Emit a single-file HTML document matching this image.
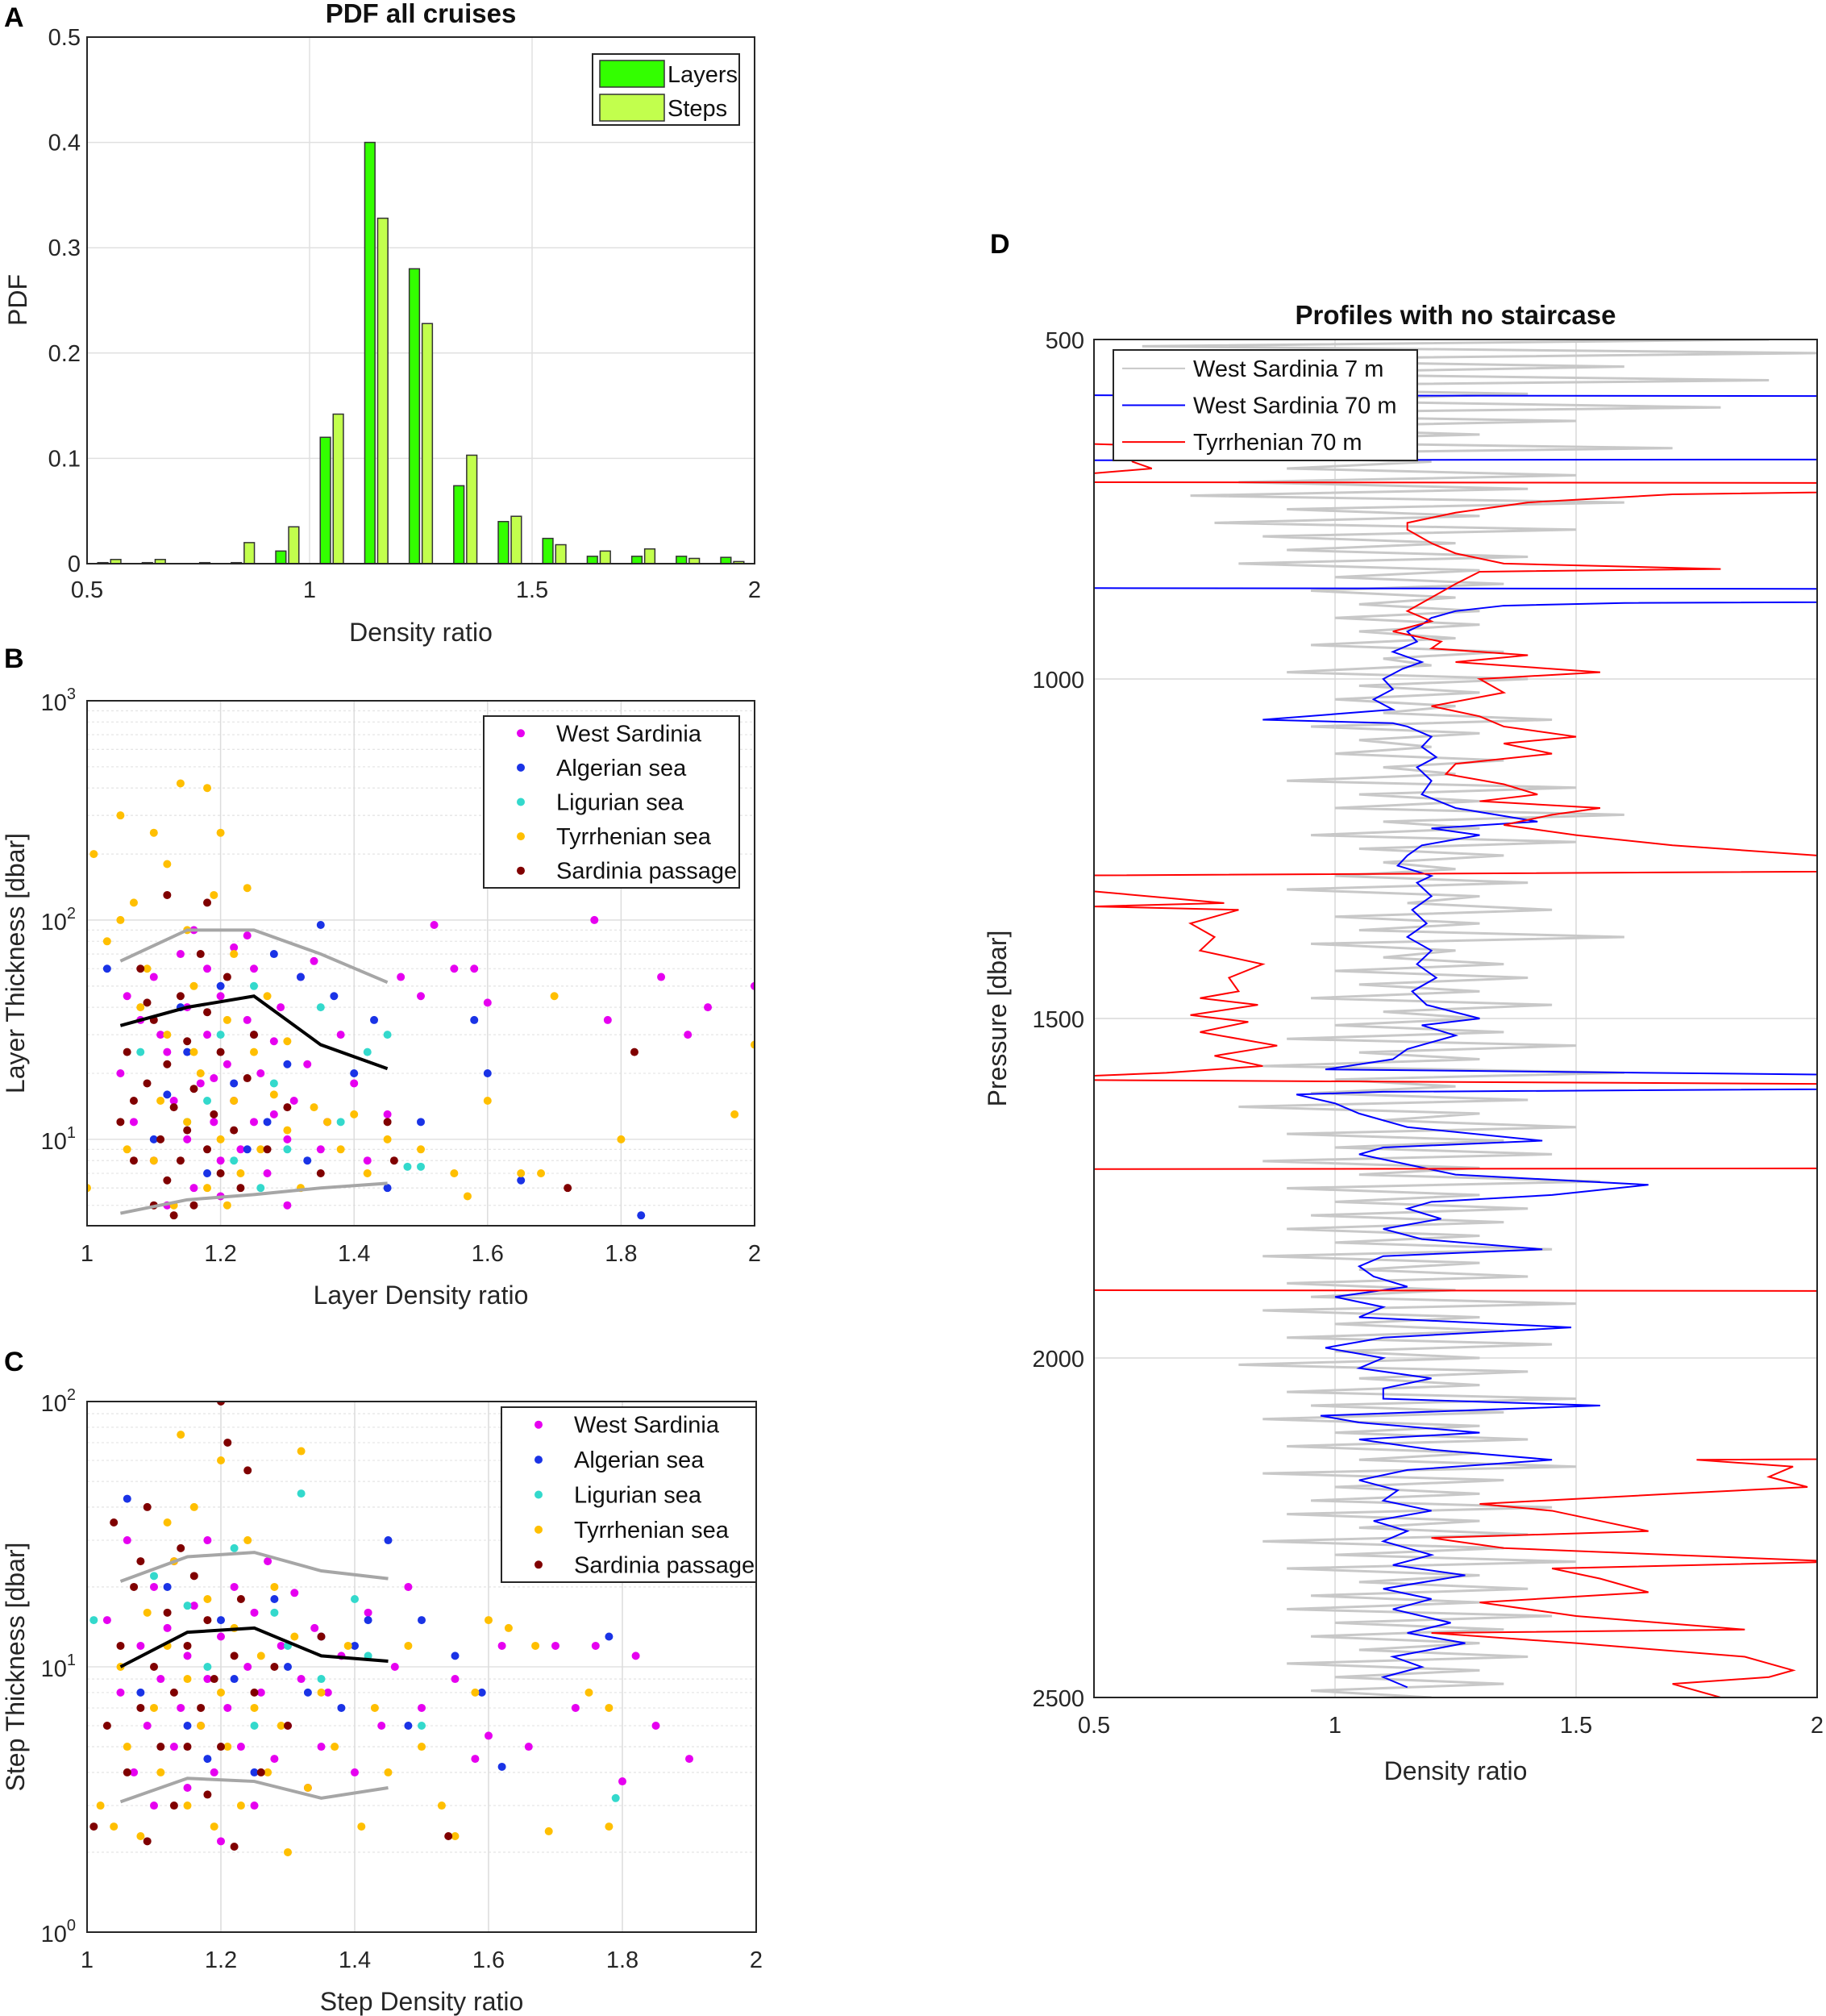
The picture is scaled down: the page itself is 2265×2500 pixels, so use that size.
<!DOCTYPE html>
<html><head><meta charset="utf-8"><style>
html,body{margin:0;padding:0;background:#fff}
svg{display:block;font-family:"Liberation Sans","DejaVu Sans",sans-serif}
</style></head><body>
<svg id="fig" xmlns="http://www.w3.org/2000/svg" width="2265" height="2500" viewBox="0 0 2265 2500">
<defs>
<clipPath id="clipB"><rect x="108" y="869" width="828" height="651"/></clipPath>
<clipPath id="clipC"><rect x="108" y="1738" width="830" height="658"/></clipPath>
<clipPath id="clipD"><rect x="1357" y="421" width="897" height="1684"/></clipPath>
</defs>
<rect x="0" y="0" width="2265" height="2500" fill="#fff"/>
<g id="gA"></g>
<g id="gB"></g>
<g id="gC"></g>
<g id="gD"></g>
</svg>
<script>
// ---------- Panel A data ----------
const binCenters=[0.55,0.65,0.75,0.85,0.95,1.05,1.15,1.25,1.35,1.45,1.55,1.65,1.75,1.85,1.95];
const layersPdf=[0.001,0.001,0,0.001,0.012,0.12,0.40,0.28,0.074,0.04,0.024,0.007,0.007,0.007,0.006];
const stepsPdf=[0.004,0.004,0.001,0.02,0.035,0.142,0.328,0.228,0.103,0.045,0.018,0.012,0.014,0.005,0.002];
const aXTicks=[0.5,1,1.5,2];
const aYTicks=[0,0.1,0.2,0.3,0.4,0.5];
// ---------- Panel B data ----------
const bWestSardinia=[1.05,20,1.07,12,1.08,35,1.1,8,1.1,55,1.12,25,1.13,15,1.14,70,1.15,10,1.15,40,1.16,6,1.17,18,1.18,30,1.18,60,1.19,12,1.2,8,1.2,45,1.21,22,1.22,15,1.22,75,1.23,9,1.24,35,1.25,12,1.25,60,1.26,20,1.27,7,1.28,28,1.29,40,1.3,10,1.31,15,1.32,55,1.33,22,1.35,9,1.36,12,1.38,30,1.4,18,1.42,8,1.45,13,1.47,55,1.5,45,1.52,95,1.55,60,1.58,60,1.6,42,1.76,100,1.78,35,1.86,55,1.9,30,1.93,40,2.0,50,1.12,5,1.2,5.5,1.3,5,1.06,45,1.16,90,1.24,85,1.11,30,1.19,19,1.28,13,1.34,65];
const bAlgerian=[1.03,60,1.1,10,1.15,25,1.18,7,1.2,50,1.22,18,1.25,30,1.27,12,1.28,70,1.3,22,1.33,8,1.35,95,1.37,45,1.4,20,1.43,35,1.45,6,1.5,12,1.58,35,1.6,20,1.65,6.5,1.83,4.5,1.14,40,1.24,9,1.32,55,1.12,16];
const bLigurian=[1.08,25,1.15,12,1.2,30,1.22,8,1.25,50,1.28,18,1.3,9,1.35,40,1.38,12,1.42,25,1.45,30,1.48,7.5,1.5,7.5,1.18,15,1.26,6];
const bTyrrhenian=[1.0,6,1.01,200,1.03,80,1.05,100,1.05,300,1.07,120,1.08,40,1.1,8,1.1,250,1.12,30,1.12,180,1.13,5,1.14,420,1.15,12,1.15,90,1.16,50,1.17,20,1.18,400,1.18,6,1.19,130,1.2,10,1.2,250,1.21,35,1.22,15,1.22,70,1.23,7,1.24,140,1.25,25,1.26,9,1.27,45,1.28,16,1.3,11,1.3,28,1.32,6,1.34,14,1.36,12,1.38,9,1.4,13,1.42,7,1.45,10,1.5,9,1.55,7,1.57,5.5,1.6,15,1.65,7,1.68,7,1.7,45,1.8,10,1.97,13,2.0,27,1.09,60,1.16,25,1.11,15,1.21,5,1.06,9];
const bSardPassage=[1.05,12,1.06,25,1.07,8,1.08,60,1.09,18,1.1,5,1.1,35,1.11,10,1.12,22,1.12,6.5,1.13,14,1.14,45,1.14,8,1.15,28,1.15,11,1.16,5,1.16,17,1.17,70,1.18,9,1.18,38,1.19,13,1.2,7,1.2,25,1.21,55,1.22,11,1.23,6,1.24,19,1.25,30,1.27,9,1.3,14,1.35,7,1.45,12,1.46,8,1.72,6,1.82,25,1.12,130,1.18,120,1.09,42,1.13,4.5,1.07,15];
const bLineX=[1.05,1.15,1.25,1.35,1.45];
const bMedian=[33,40,45,27,21];
const bUpper=[65,90,90,70,52];
const bLower=[4.6,5.3,5.6,6,6.3];
// ---------- Panel C data ----------
const cWestSardinia=[1.03,15,1.05,8,1.06,30,1.07,4,1.08,12,1.09,6,1.1,20,1.1,3,1.11,9,1.12,14,1.13,5,1.13,25,1.14,7,1.15,11,1.15,3.5,1.16,17,1.17,6,1.18,9,1.18,30,1.19,4,1.2,13,1.2,2.2,1.21,7,1.22,20,1.23,5,1.24,10,1.25,3,1.25,16,1.26,8,1.27,25,1.28,4.5,1.29,12,1.3,6,1.31,19,1.32,9,1.33,3.5,1.34,14,1.35,5,1.36,8,1.38,11,1.4,4,1.42,16,1.44,6,1.46,10,1.48,20,1.5,7,1.55,9,1.58,4.5,1.62,12,1.66,5,1.73,7,1.76,12,1.8,3.7,1.82,11,1.85,6,1.9,4.5,1.6,5.5,1.7,12];
const cAlgerian=[1.06,43,1.12,20,1.15,6,1.2,15,1.22,9,1.25,4,1.28,18,1.3,10,1.33,8,1.35,13,1.38,7,1.4,12,1.42,15,1.45,30,1.48,6,1.5,15,1.55,11,1.59,8,1.62,4.2,1.78,13,1.08,8,1.18,4.5];
const cLigurian=[1.01,15,1.1,22,1.18,10,1.22,28,1.25,6,1.28,16,1.3,12,1.32,45,1.35,9,1.4,18,1.42,11,1.5,6,1.79,3.2,1.15,17];
const cTyrrhenian=[1.02,3,1.04,2.5,1.05,10,1.06,5,1.08,2.3,1.09,16,1.1,7,1.11,4,1.12,12,1.13,25,1.14,75,1.15,3,1.15,9,1.16,40,1.17,6,1.18,18,1.19,2.5,1.2,8,1.2,60,1.21,5,1.22,14,1.23,3,1.24,30,1.25,7,1.26,11,1.27,4,1.28,20,1.29,6,1.3,2,1.31,13,1.32,65,1.33,3.5,1.35,8,1.37,5,1.39,12,1.41,2.5,1.43,7,1.45,4,1.48,12,1.5,5,1.53,3,1.55,2.3,1.58,8,1.6,15,1.63,14,1.67,12,1.69,2.4,1.75,8,1.78,2.5,1.78,7,1.12,35];
const cSardPassage=[1.01,2.5,1.03,6,1.04,35,1.05,12,1.06,4,1.07,20,1.08,7,1.09,2.2,1.09,40,1.1,10,1.11,5,1.12,16,1.13,3,1.13,8,1.14,28,1.15,12,1.15,5,1.16,22,1.17,7,1.18,3.3,1.18,15,1.19,9,1.2,100,1.2,5,1.21,70,1.22,11,1.22,2.1,1.23,18,1.24,55,1.25,8,1.26,4,1.28,10,1.3,6,1.35,13,1.08,25,1.54,2.3];
const cMedian=[10,13.5,14,11,10.5];
const cUpper=[21,26,27,23,21.5];
const cLower=[3.1,3.8,3.7,3.2,3.5];
const xTicksBC=[1,1.2,1.4,1.6,1.8,2];
// ---------- Panel D data ----------
const bluePressure=[500,582,584,676,678,866,868,884,888,892,900,910,920,930,945,960,975,985,1000,1015,1030,1045,1060,1065,1070,1085,1100,1115,1130,1150,1170,1190,1210,1220,1230,1245,1260,1275,1290,1300,1320,1340,1360,1380,1400,1420,1440,1460,1480,1500,1510,1525,1545,1560,1575,1590,1600,1608,1612,1625,1640,1660,1680,1690,1700,1715,1730,1745,1760,1770,1780,1795,1810,1825,1840,1850,1865,1880,1895,1910,1925,1940,1955,1970,1985,2000,2015,2030,2045,2060,2070,2085,2095,2110,2120,2135,2150,2165,2180,2195,2210,2225,2240,2255,2270,2290,2305,2320,2340,2355,2370,2390,2405,2420,2440,2455,2470,2485,2500];
const blueValue=[0.3,0.3,3,3,0.3,0.3,3,3,1.6,1.35,1.25,1.2,1.18,1.15,1.17,1.12,1.18,1.14,1.1,1.12,1.08,1.12,0.85,1.12,1.15,1.2,1.18,1.21,1.17,1.2,1.18,1.25,1.42,1.2,1.3,1.18,1.15,1.13,1.2,1.17,1.2,1.16,1.19,1.15,1.2,1.17,1.21,1.16,1.19,1.3,1.18,1.25,1.15,1.12,0.98,3,3,1.1,0.92,1.0,1.05,1.15,1.43,1.1,1.05,1.15,1.25,1.65,1.45,1.2,1.15,1.22,1.1,1.18,1.43,1.1,1.05,1.08,1.15,1.0,1.1,1.05,1.49,1.1,0.98,1.1,1.05,1.2,1.1,1.1,1.55,0.97,1.05,1.3,1.05,1.2,1.45,1.15,1.05,1.13,1.1,1.2,1.08,1.15,1.1,1.2,1.12,1.27,1.1,1.2,1.12,1.24,1.15,1.27,1.12,1.18,1.1,1.15];
const redPressure=[500,650,655,668,680,690,697,700,710,712,716,728,740,755,770,780,800,815,830,838,842,860,880,900,915,930,945,955,965,975,990,1000,1020,1040,1055,1070,1085,1095,1110,1125,1140,1155,1170,1180,1190,1200,1215,1230,1245,1260,1280,1290,1300,1330,1335,1340,1360,1380,1400,1420,1440,1460,1470,1480,1495,1505,1520,1540,1555,1570,1580,1590,1600,1720,1722,1900,1902,2145,2150,2160,2175,2190,2200,2215,2225,2240,2255,2265,2280,2300,2310,2325,2345,2360,2380,2400,2405,2420,2440,2460,2470,2480,2500];
const redValue=[0.3,0.3,0.55,0.57,0.58,0.62,0.5,0.3,0.3,3,3,1.7,1.4,1.25,1.15,1.15,1.2,1.25,1.35,1.8,1.3,1.25,1.2,1.15,1.2,1.12,1.22,1.2,1.4,1.25,1.55,1.3,1.35,1.2,1.3,1.35,1.5,1.35,1.45,1.25,1.23,1.35,1.42,1.3,1.55,1.45,1.35,1.5,1.7,2.0,3,0.3,0.3,0.77,0.5,0.8,0.7,0.75,0.72,0.85,0.78,0.8,0.72,0.84,0.7,0.82,0.72,0.88,0.75,0.85,0.65,0.3,3,3,0.3,0.3,3,3,1.75,1.95,1.9,1.98,1.7,1.3,1.45,1.55,1.65,1.2,1.35,2.05,1.45,1.55,1.65,1.3,1.5,1.85,1.2,1.5,1.85,1.95,1.9,1.7,1.8];
const grayValue=[1.9,0.6,2.0,0.7,1.6,0.8,1.9,0.55,1.4,0.9,1.8,0.6,1.5,0.8,1.3,0.7,1.7,0.6,1.2,0.9,1.5,
0.8,1.4,0.7,1.6,0.9,1.3,0.75,1.5,0.85,1.25,0.9,1.4,0.8,1.3,1.0,1.35,0.95,1.25,1.05,1.3,
1.0,1.3,1.05,1.25,0.95,1.35,1.1,1.2,0.9,1.4,1.05,1.3,1.0,1.25,1.1,1.45,0.95,1.3,1.05,1.2,1.0,1.35,1.1,1.25,0.9,1.5,1.05,1.3,1.0,1.6,
1.1,1.3,0.95,1.5,1.05,1.35,1.1,1.25,1.0,1.4,0.9,1.3,1.15,1.45,1.0,1.3,1.05,1.6,0.95,1.25,1.1,1.35,1.0,1.4,1.05,1.3,0.95,1.45,1.1,1.3,
1.0,1.35,0.9,1.5,1.05,1.3,0.85,1.6,1.0,1.25,0.95,1.4,0.8,1.3,1.1,1.5,0.9,1.35,1.0,1.45,0.85,1.3,1.05,1.55,0.9,1.3,1.0,1.4,0.95,1.35,
0.9,1.3,1.0,1.45,0.85,1.3,1.05,1.4,0.9,1.25,0.95,1.5,0.85,1.3,1.0,1.35,0.9,1.45,1.0,1.3,0.8,1.4,1.05,1.3,0.9,1.5,0.95,1.35,0.85,1.3,
1.0,1.4,0.9,1.3,1.05,1.5,0.85,1.35,1.0,1.3,0.95,1.45,0.9,1.3,1.05,1.4,0.85,1.35,1.0,1.5,0.9,1.3,1.05,1.4,0.95,1.3,0.9,1.45,1.0,1.35,0.95,1.3,1.05,1.4,0.9,1.3,1.0,1.35,0.95,1.2];
const dXTicks=[0.5,1,1.5,2];
const dYTicks=[500,1000,1500,2000,2500];

const NS='http://www.w3.org/2000/svg';
function mk(parent,tag,attrs,text){const e=document.createElementNS(NS,tag);for(const k in attrs)e.setAttribute(k,attrs[k]);if(text!==undefined)e.textContent=text;parent.appendChild(e);return e;}
function lin(d0,d1,r0,r1){return v=>r0+(v-d0)*(r1-r0)/(d1-d0);}
function logs(d0,d1,r0,r1){return v=>r0+(Math.log10(v)-d0)*(r1-r0)/(d1-d0);}
const TF='font-size:29px;fill:#262626';
const LF='font-size:32px;fill:#262626';

// ================= Panel A =================
(function(){
const g=document.getElementById('gA');
const L=108,R=936,T=46,B=699;
const x=lin(0.5,2,L,R), y=lin(0,0.5,B,T);
for(const t of aXTicks){const gl=mk(g,'line',{x1:x(t),x2:x(t),y1:T,y2:B,stroke:'#e0e0e0','stroke-width':1.5});

const tl=mk(g,'text',{x:x(t),y:B+42,'text-anchor':'middle',style:TF},String(t));
}
for(const t of aYTicks){const gl=mk(g,'line',{x1:L,x2:R,y1:y(t),y2:y(t),stroke:'#e0e0e0','stroke-width':1.5});

const tl=mk(g,'text',{x:L-8,y:y(t)+10,'text-anchor':'end',style:TF},String(t));
}
const bw=x(0.523)-x(0.5);
binCenters.forEach((c,i)=>{
const b1=mk(g,'rect',{x:x(c-0.026),y:y(layersPdf[i]),width:bw,height:B-y(layersPdf[i]),fill:'#33ff00',stroke:'#333','stroke-width':1.5});

const b2=mk(g,'rect',{x:x(c+0.003),y:y(stepsPdf[i]),width:bw,height:B-y(stepsPdf[i]),fill:'#c2ff4d',stroke:'#333','stroke-width':1.5});

});
const ax=mk(g,'rect',{x:L,y:T,width:R-L,height:B-T,fill:'none',stroke:'#262626','stroke-width':2});

const lg=mk(g,'g',{});
mk(lg,'rect',{x:735,y:67,width:182,height:88,fill:'#fff',stroke:'#262626','stroke-width':2});
mk(lg,'rect',{x:744,y:75,width:80,height:33,fill:'#33ff00',stroke:'#333','stroke-width':1.5});
mk(lg,'text',{x:828,y:102,style:'font-size:29px;fill:#111'},'Layers');
mk(lg,'rect',{x:744,y:117,width:80,height:33,fill:'#c2ff4d',stroke:'#333','stroke-width':1.5});
mk(lg,'text',{x:828,y:144,style:'font-size:29px;fill:#111'},'Steps');
const tt=mk(g,'text',{x:522,y:28,'text-anchor':'middle',style:'font-size:33px;font-weight:bold;fill:#111'},'PDF all cruises');

const pl=mk(g,'text',{x:5,y:33,style:'font-size:34px;font-weight:bold;fill:#000'},'A');

const xl=mk(g,'text',{x:522,y:795,'text-anchor':'middle',style:LF},'Density ratio');

const yl=mk(g,'text',{x:0,y:0,'text-anchor':'middle',transform:'translate(33,372) rotate(-90)',style:LF},'PDF');

})();

// ================= Scatter panels =================
const groups=[['West Sardinia','#e600f0'],['Algerian sea','#1a33e6'],['Ligurian sea','#33d9cc'],['Tyrrhenian sea','#ffbf00'],['Sardinia passage','#800000']];
function scatterPanel(id,L,R,T,B,ld0,ld1,decades,sets,med,up,lo,clip,letter,ylab,xlab,leg){
const g=document.getElementById(id);
const x=lin(1,2,L,R), y=logs(ld0,ld1,B,T);
for(let d=Math.floor(ld0);d<ld1;d++){for(let m=1;m<10;m++){const v=m*Math.pow(10,d);const lv=Math.log10(v);if(lv<ld0-1e-9||lv>ld1+1e-9)continue;
const gl=mk(g,'line',{x1:L,x2:R,y1:y(v),y2:y(v),stroke:m===1?'#dcdcdc':'#e6e6e6','stroke-width':1.3,'stroke-dasharray':m===1?'':'3 3'});
}}
for(const t of xTicksBC){const gl=mk(g,'line',{x1:x(t),x2:x(t),y1:T,y2:B,stroke:'#dcdcdc','stroke-width':1.5});

const tl=mk(g,'text',{x:x(t),y:B+44,'text-anchor':'middle',style:TF},String(t));
}
for(const d of decades){const tl=mk(g,'text',{x:L-14,y:y(Math.pow(10,d))+12,'text-anchor':'end',style:TF});
mk(tl,'tspan',{},'10');mk(tl,'tspan',{dy:-14,style:'font-size:20px'},String(d));
}
const cg=mk(g,'g',{'clip-path':'url(#'+clip+')'});
sets.forEach((arr,gi)=>{for(let i=0;i<arr.length;i+=2){
const c=mk(cg,'circle',{cx:x(arr[i]),cy:y(arr[i+1]),r:5,fill:groups[gi][1]});
}});
function line(vals,col,name){const p=mk(cg,'polyline',{points:bLineX.map((v,i)=>x(v)+','+y(vals[i])).join(' '),fill:'none',stroke:col,'stroke-width':4});
}
line(up,'#a6a6a6','upper-quantile-line');line(lo,'#a6a6a6','lower-quantile-line');line(med,'#000','median-line');
const ax=mk(g,'rect',{x:L,y:T,width:R-L,height:B-T,fill:'none',stroke:'#262626','stroke-width':2});

const lg=mk(g,'g',{});
mk(lg,'rect',{x:leg[0],y:leg[1],width:leg[2],height:leg[3],fill:'#fff',stroke:'#262626','stroke-width':2});
const rh=leg[3]/5;
groups.forEach((gr,i)=>{const cy=leg[1]+rh*(i+0.5);
const c=mk(lg,'circle',{cx:leg[0]+46,cy:cy,r:5,fill:gr[1]});

const t=mk(lg,'text',{x:leg[0]+90,y:cy+10,style:'font-size:29px;fill:#111'},gr[0]);
});
const pl=mk(g,'text',{x:letter[0],y:letter[1],style:'font-size:34px;font-weight:bold;fill:#000'},letter[2]);

const xl=mk(g,'text',{x:(L+R)/2,y:B+97,'text-anchor':'middle',style:LF},xlab);

const yl=mk(g,'text',{x:0,y:0,'text-anchor':'middle',transform:'translate(30,'+((T+B)/2)+') rotate(-90)',style:LF},ylab);

}
scatterPanel('gB',108,936,869,1520,0.606,3,[1,2,3],[bWestSardinia,bAlgerian,bLigurian,bTyrrhenian,bSardPassage],bMedian,bUpper,bLower,'clipB',[5,828,'B'],'Layer Thickness [dbar]','Layer Density ratio',[600,888,317,213]);
scatterPanel('gC',108,938,1738,2396,0,2,[0,1,2],[cWestSardinia,cAlgerian,cLigurian,cTyrrhenian,cSardPassage],cMedian,cUpper,cLower,'clipC',[5,1700,'C'],'Step Thickness [dbar]','Step Density ratio',[622,1745,316,217]);

// ================= Panel D =================
(function(){
const g=document.getElementById('gD');
const L=1357,R=2254,T=421,B=2105;
const x=lin(0.5,2,L,R), y=lin(500,2500,T,B);
for(const t of dXTicks){const gl=mk(g,'line',{x1:x(t),x2:x(t),y1:T,y2:B,stroke:'#d8d8d8','stroke-width':1.5});

const tl=mk(g,'text',{x:x(t),y:B+44,'text-anchor':'middle',style:TF},String(t));
}
for(const t of dYTicks){const gl=mk(g,'line',{x1:L,x2:R,y1:y(t),y2:y(t),stroke:'#d8d8d8','stroke-width':1.5});

const tl=mk(g,'text',{x:L-12,y:y(t)+11,'text-anchor':'end',style:TF},String(t));
}
const cg=mk(g,'g',{'clip-path':'url(#clipD)'});
const n=grayValue.length;
const gp=mk(cg,'polyline',{points:grayValue.map((v,i)=>x(v)+','+y(500+i*2000/(n-1))).join(' '),fill:'none',stroke:'#c8c8c8','stroke-width':3});

const bp=mk(cg,'polyline',{points:blueValue.map((v,i)=>x(v)+','+y(bluePressure[i])).join(' '),fill:'none',stroke:'#0000ff','stroke-width':2});

const rp=mk(cg,'polyline',{points:redValue.map((v,i)=>x(v)+','+y(redPressure[i])).join(' '),fill:'none',stroke:'#ff0000','stroke-width':2});

const ax=mk(g,'rect',{x:L,y:T,width:R-L,height:B-T,fill:'none',stroke:'#262626','stroke-width':2});

const lg=mk(g,'g',{});
mk(lg,'rect',{x:1381,y:434,width:377,height:137,fill:'#fff',stroke:'#262626','stroke-width':2});
const items=[['West Sardinia 7 m','#c8c8c8'],['West Sardinia 70 m','#0000ff'],['Tyrrhenian 70 m','#ff0000']];
items.forEach((it,i)=>{const cy=434+137*(i+0.5)/3;
const l=mk(lg,'line',{x1:1392,x2:1470,y1:cy,y2:cy,stroke:it[1],'stroke-width':2});

const t=mk(lg,'text',{x:1480,y:cy+10,style:'font-size:29px;fill:#111'},it[0]);
});
const tt=mk(g,'text',{x:(L+R)/2,y:402,'text-anchor':'middle',style:'font-size:33px;font-weight:bold;fill:#111'},'Profiles with no staircase');

const pl=mk(g,'text',{x:1228,y:314,style:'font-size:34px;font-weight:bold;fill:#000'},'D');

const xl=mk(g,'text',{x:(L+R)/2,y:2207,'text-anchor':'middle',style:LF},'Density ratio');

const yl=mk(g,'text',{x:0,y:0,'text-anchor':'middle',transform:'translate(1248,1263) rotate(-90)',style:LF},'Pressure [dbar]');

})();
</script>
</body></html>
